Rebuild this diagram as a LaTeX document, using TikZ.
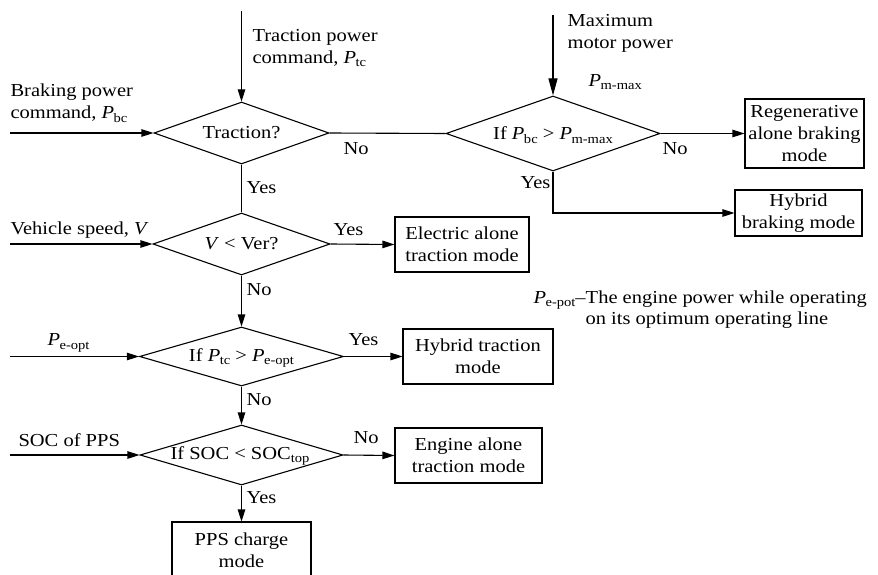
\documentclass[tikz,border=0pt]{standalone}
\usepackage{fontspec}
\setmainfont{Liberation Serif}[FakeStretch=1.12]
\usetikzlibrary{shapes.geometric,arrows.meta}
\newcommand\Psb[1]{\textit{P}\kern-0.5pt\raisebox{-3.5pt}{\fontsize{13}{13}\selectfont #1}}
\begin{document}
\begin{tikzpicture}[x=1pt,y=-1pt,
  font=\fontsize{18.3}{22}\selectfont,
  line width=1.1pt,
  dia/.style={draw, diamond, inner sep=0pt},
  box/.style={draw, rectangle, inner sep=0pt, align=center},
  lbl/.style={inner sep=0pt, anchor=west, align=left},
  arr/.style={-{Triangle[length=12pt,width=7.5pt]}},
  bigarr/.style={-{Triangle[length=17pt,width=9pt]}}]
\path[use as bounding box] (0,0) rectangle (878,575);

% diamonds
\node[dia, minimum width=175pt, minimum height=62pt] (d1) at (241.5,133) {};
\node[inner sep=0pt] (t1) at (d1) {Traction?};
\node[dia, minimum width=214pt, minimum height=75pt] (d2) at (553,133.5) {};
\node[inner sep=0pt] (t2) at (553,135) {If \Psb{bc} > \Psb{m-max}};
\node[dia, minimum width=177pt, minimum height=62pt] (d3) at (241.5,244) {};
\node[inner sep=0pt] (t3) at (d3) {\textit{V} < Ver?};
\node[dia, minimum width=204pt, minimum height=59pt] (d4) at (241.5,356.5) {};
\node[inner sep=0pt] (t4) at (241.5,358) {If \Psb{tc} > \Psb{e-opt}};
\node[dia, minimum width=203pt, minimum height=60pt] (d5) at (241.5,455) {};
\node[inner sep=0pt] (t5) at (240,456) {If SOC < SOC\raisebox{-3.5pt}{\fontsize{13}{13}\selectfont top}};

% boxes
\node[box, minimum width=119pt, minimum height=69pt] (regen) at (804.5,133.5) {Regenerative\\alone braking\\mode};
\node[box, minimum width=127pt, minimum height=46pt] (hb) at (798.5,213) {Hybrid\\braking mode};
\node[box, minimum width=134pt, minimum height=55pt] (elec) at (462,244.5) {Electric alone\\traction mode};
\node[box, minimum width=150pt, minimum height=55pt] (ht) at (478,356.5) {Hybrid traction\\mode};
\node[box, minimum width=147pt, minimum height=55pt] (eng) at (468.5,455.5) {Engine alone\\traction mode};
\node[box, minimum width=139pt, minimum height=56pt] (pps) at (241.5,550) {PPS charge\\mode};

% input coordinates
\coordinate (in1) at (241.5,11);
\coordinate (in2) at (553,15);
\coordinate (inb) at (10,133);
\coordinate (inv) at (10,244);
\coordinate (ine) at (10,356.5);
\coordinate (ins) at (10,455);

% connectors
\draw[arr] (in1) -- (d1.north);
\draw[arr] (inb) -- (d1.west);
\draw[bigarr] (in2) -- (d2.north);
\draw (d1.east) -- (d2.west);
\draw[arr] (d2.east) -- (regen.west);
\draw[arr] (d2.south) |- (hb.west);
\draw (d1.south) -- (d3.north);
\draw[arr] (inv) -- (d3.west);
\draw[arr] (d3.east) -- (elec.west);
\draw[arr] (d3.south) -- (d4.north);
\draw[arr] (ine) -- (d4.west);
\draw[arr] (d4.east) -- (ht.west);
\draw[arr] (d4.south) -- (d5.north);
\draw[arr] (ins) -- (d5.west);
\draw[arr] (d5.east) -- (eng.west);
\draw[arr] (d5.south) -- (pps.north);

% labels
\node[lbl] (l1) at (252,48) {Traction power\\command, \Psb{tc}};
\node[lbl] (l2) at (10,103) {Braking power\\command, \Psb{bc}};
\node[lbl] (l3) at (567,33) {Maximum\\motor power};
\node[lbl] (l4) at (588,82) {\Psb{m-max}};
\node[lbl] (no1) at (343,149) {No};
\node[lbl] (no2) at (662,149) {No};
\node[lbl] (yes2) at (520,183) {Yes};
\node[lbl] (yes1) at (246,188) {Yes};
\node[lbl] (l5) at (10,230) {Vehicle speed, \textit{V}};
\node[lbl] (yes3) at (333,230) {Yes};
\node[lbl] (no3) at (246,290) {No};
\node[lbl] (l6) at (47,343) {\Psb{e-opt}};
\node[lbl] (yes4) at (348,340) {Yes};
\node[lbl] (no4) at (246,400) {No};
\node[lbl] (l7) at (18,440) {SOC of PPS};
\node[lbl] (no5) at (353,438) {No};
\node[lbl] (yes5) at (246,498) {Yes};
\node[lbl] (n1) at (533,300) {\Psb{e-pot}–The engine power while operating};
\node[lbl] (n2) at (585,320) {on its optimum operating line};
\end{tikzpicture}
\end{document}
